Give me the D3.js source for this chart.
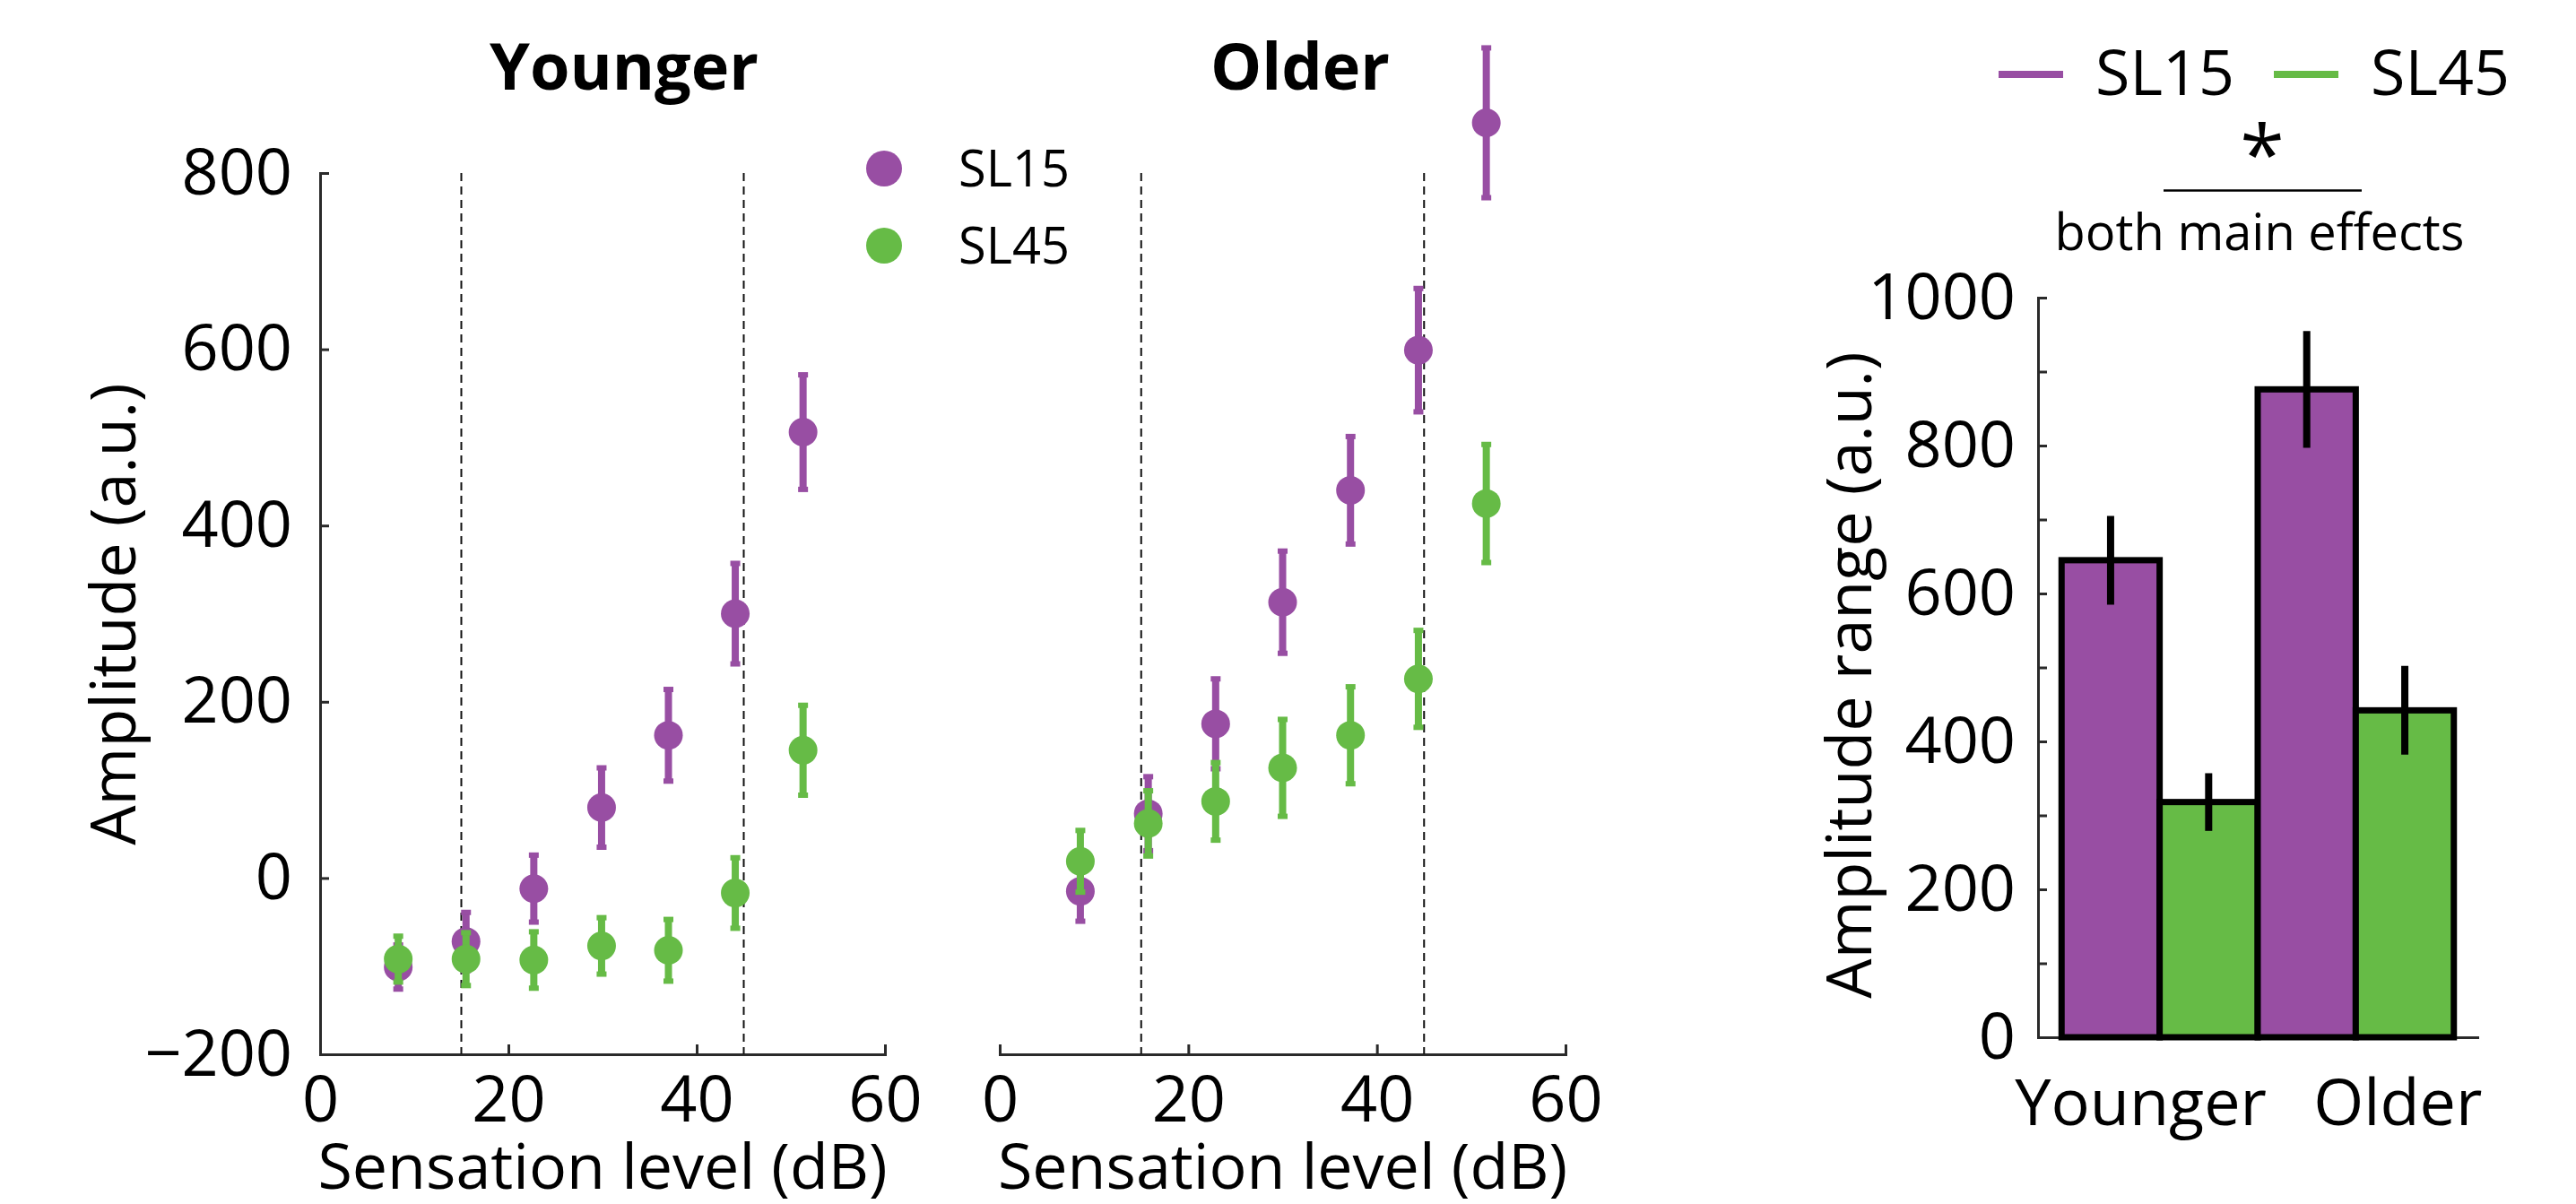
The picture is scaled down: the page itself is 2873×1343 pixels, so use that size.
<!DOCTYPE html>
<html>
<head>
<meta charset="utf-8">
<script src="https://cdn.jsdelivr.net/npm/d3@7"></script>
<style>
  body { margin: 0; background: #fff; }
  svg { display: block; font-family: 'Open Sans', sans-serif; }
</style>
</head>
<body>
<div id="chart"></div>
<script>
// ---- data ----
const conditions = ['SL15', 'SL45'];
const groups = ['Younger', 'Older'];

const youngerLevels = [8.3, 15.5, 22.7, 29.9, 37.0, 44.1, 51.3];
const olderLevels = [8.55, 15.75, 22.9, 30.0, 37.2, 44.4, 51.6];

const youngerSL15 = [-101, -72, -12, 80, 162, 300, 506];
const youngerSL15Err = [25, 33, 38, 45, 52, 57, 65];
const youngerSL45 = [-92, -92, -93, -77, -82, -17, 145];
const youngerSL45Err = [26, 30, 32, 32, 35, 40, 51];

const olderSL15 = [-15, 73, 175, 313, 440, 599, 857];
const olderSL15Err = [34, 42, 51, 58, 61, 70, 85];
const olderSL45 = [19, 62, 87, 125, 162, 226, 425];
const olderSL45Err = [35, 37, 44, 55, 55, 55, 67];

const rangeSL15 = [645, 876];
const rangeSL15Err = [60, 79];
const rangeSL45 = [318, 442];
const rangeSL45Err = [39, 60];

const boundaries = [15, 45];
const xTicks = [0, 20, 40, 60];
const yTicks = [-200, 0, 200, 400, 600, 800];
const barTicks = d3.range(0, 1001, 100);

// ---- setup ----
const W = 2873, H = 1343;
const axisColor = '#2a2a2a';
const color = d3.scaleOrdinal().domain(conditions).range(['#984ea3', '#66bb46']);

const svg = d3.select('#chart').append('svg')
  .attr('width', W)
  .attr('height', H);

svg.append('rect').attr('width', W).attr('height', H).attr('fill', '#fff');

const y = d3.scaleLinear().domain([-200, 800]).range([1176, 193]);

function styleAxis(g, fontSize) {
  g.select('.domain').attr('stroke', axisColor).attr('stroke-width', 3).attr('stroke-linecap', 'square');
  g.selectAll('.tick line').attr('stroke', axisColor).attr('stroke-width', 3);
  g.selectAll('.tick text').attr('font-size', fontSize).attr('fill', '#000')
    .attr('font-family', "'Open Sans', sans-serif");
}

function panel(x, levels, sl15, sl15Err, sl45, sl45Err, title, titleX, showY) {
  const xAxis = svg.append('g')
    .attr('transform', `translate(0, ${y(-200)})`)
    .call(d3.axisBottom(x).tickValues(xTicks).tickSizeInner(-11).tickSizeOuter(0).tickPadding(24));
  styleAxis(xAxis, 72);

  if (showY) {
    const yAxis = svg.append('g')
      .attr('transform', `translate(${x(0)}, 0)`)
      .call(d3.axisLeft(y).tickValues(yTicks).tickSizeInner(-10).tickSizeOuter(0).tickPadding(31)
        .tickFormat(d => d < 0 ? '\u2212' + Math.abs(d) : d));
    styleAxis(yAxis, 72);
  }

  svg.selectAll(null)
    .data(boundaries)
    .enter()
    .append('line')
      .attr('x1', d => x(d)).attr('x2', d => x(d))
      .attr('y1', y(800)).attr('y2', y(-200))
      .attr('stroke', '#111')
      .attr('stroke-width', 2)
      .attr('stroke-dasharray', '9,6');

  const series = [
    { key: 'SL15', mean: sl15, err: sl15Err },
    { key: 'SL45', mean: sl45, err: sl45Err }
  ];

  series.forEach(s => {
    const pts = levels.map((lv, i) => ({ lv, m: s.mean[i], e: s.err[i] }));
    const g = svg.append('g').attr('fill', color(s.key)).attr('stroke', color(s.key));

    g.selectAll('line')
      .data(pts)
      .enter()
      .append('line')
        .attr('x1', d => x(d.lv)).attr('x2', d => x(d.lv))
        .attr('y1', d => y(d.m + d.e)).attr('y2', d => y(d.m - d.e))
        .attr('stroke-width', 8);

    g.selectAll('rect.cap')
      .data(pts.flatMap(d => [d.m + d.e, d.m - d.e].map(v => ({ lv: d.lv, v }))))
      .enter()
      .append('rect')
        .attr('class', 'cap')
        .attr('stroke', 'none')
        .attr('x', d => x(d.lv) - 5.5)
        .attr('y', d => y(d.v) - 3)
        .attr('width', 11)
        .attr('height', 6);

    g.selectAll('circle')
      .data(pts)
      .enter()
      .append('circle')
        .attr('stroke', 'none')
        .attr('cx', d => x(d.lv))
        .attr('cy', d => y(d.m))
        .attr('r', 16);
  });

  svg.append('text')
    .attr('x', titleX)
    .attr('y', 100)
    .attr('text-anchor', 'middle')
    .attr('font-size', 72)
    .attr('font-weight', 'bold')
    .text(title);

  svg.append('text')
    .attr('x', (x(0) + x(60)) / 2)
    .attr('y', 1326)
    .attr('text-anchor', 'middle')
    .attr('font-size', 70)
    .text('Sensation level (dB)');
}

const xYoung = d3.scaleLinear().domain([0, 60]).range([357, 987]);
const xOld = d3.scaleLinear().domain([0, 60]).range([1115, 1746]);

panel(xYoung, youngerLevels, youngerSL15, youngerSL15Err, youngerSL45, youngerSL45Err, 'Younger', 696, true);
panel(xOld, olderLevels, olderSL15, olderSL15Err, olderSL45, olderSL45Err, 'Older', 1450, false);

svg.append('text')
  .attr('transform', 'translate(151, 685) rotate(-90)')
  .attr('text-anchor', 'middle')
  .attr('font-size', 70)
  .text('Amplitude (a.u.)');

// scatter legend
const sLegend = svg.append('g').attr('transform', 'translate(986, 188)');
const sRow = sLegend.selectAll('.legend-row')
  .data(conditions)
  .enter()
  .append('g')
    .attr('class', 'legend-row')
    .attr('transform', (d, i) => `translate(0, ${i * 86})`);
sRow.append('circle').attr('r', 20).attr('fill', d => color(d));
sRow.append('text').attr('x', 83).attr('y', 20).attr('font-size', 56).text(d => d);

// ---- bar chart ----
const yBar = d3.scaleLinear().domain([0, 1000]).range([1157, 332]);
const xGroup = d3.scaleBand().domain(groups).range([2273, 2763]).paddingInner(0).paddingOuter(0.12);
const xSub = d3.scaleBand().domain(conditions).range([0, xGroup.bandwidth()]).padding(0);

const barAxisY = svg.append('g')
  .attr('transform', `translate(${xGroup.range()[0]}, 0)`)
  .call(d3.axisLeft(yBar).tickValues(barTicks).tickSizeInner(-10).tickSizeOuter(0).tickPadding(25)
    .tickFormat(d => d % 200 === 0 ? d : ''));
styleAxis(barAxisY, 72);

const barAxisX = svg.append('g')
  .attr('transform', `translate(0, ${yBar(0)})`)
  .call(d3.axisBottom(xGroup).tickSize(0).tickFormat(''));
styleAxis(barAxisX, 72);

const barData = groups.flatMap((g, i) => [
  { group: g, cond: 'SL15', v: rangeSL15[i], e: rangeSL15Err[i] },
  { group: g, cond: 'SL45', v: rangeSL45[i], e: rangeSL45Err[i] }
]);

svg.selectAll('rect.bar')
  .data(barData)
  .enter()
  .append('rect')
    .attr('class', 'bar')
    .attr('x', d => xGroup(d.group) + xSub(d.cond))
    .attr('y', d => yBar(d.v))
    .attr('width', xSub.bandwidth())
    .attr('height', d => yBar(0) - yBar(d.v))
    .attr('fill', d => color(d.cond))
    .attr('stroke', '#000')
    .attr('stroke-width', 7);

svg.selectAll('line.barerr')
  .data(barData)
  .enter()
  .append('line')
    .attr('class', 'barerr')
    .attr('x1', d => xGroup(d.group) + xSub(d.cond) + xSub.bandwidth() / 2)
    .attr('x2', d => xGroup(d.group) + xSub(d.cond) + xSub.bandwidth() / 2)
    .attr('y1', d => yBar(d.v + d.e))
    .attr('y2', d => yBar(d.v - d.e))
    .attr('stroke', '#000')
    .attr('stroke-width', 8);

const groupLabelShift = [-21, 47];
svg.selectAll('text.group')
  .data(groups)
  .enter()
  .append('text')
    .attr('class', 'group')
    .attr('x', (d, i) => xGroup(d) + xGroup.bandwidth() / 2 + groupLabelShift[i])
    .attr('y', 1255)
    .attr('text-anchor', 'middle')
    .attr('font-size', 72)
    .text(d => d);

svg.append('text')
  .attr('transform', 'translate(2087, 753) rotate(-90)')
  .attr('text-anchor', 'middle')
  .attr('font-size', 70)
  .text('Amplitude range (a.u.)');

// bar legend
const bLegend = svg.append('g').attr('transform', 'translate(2229, 83)');
const bRow = bLegend.selectAll('.legend-row')
  .data(conditions)
  .enter()
  .append('g')
    .attr('class', 'legend-row')
    .attr('transform', (d, i) => `translate(${i * 307}, 0)`);
bRow.append('line').attr('x1', 0).attr('x2', 72)
  .attr('stroke', d => color(d)).attr('stroke-width', 8);
bRow.append('text').attr('x', 108).attr('y', 23).attr('font-size', 70).text(d => d);

// significance annotation
svg.append('text')
  .attr('x', 2523)
  .attr('y', 204)
  .attr('text-anchor', 'middle')
  .attr('font-size', 90)
  .text('*');

svg.append('line')
  .attr('x1', 2413).attr('x2', 2634)
  .attr('y1', 212.5).attr('y2', 212.5)
  .attr('stroke', '#000')
  .attr('stroke-width', 2.5);

svg.append('text')
  .attr('x', 2520)
  .attr('y', 279)
  .attr('text-anchor', 'middle')
  .attr('font-size', 56)
  .text('both main effects');
</script>
</body>
</html>
